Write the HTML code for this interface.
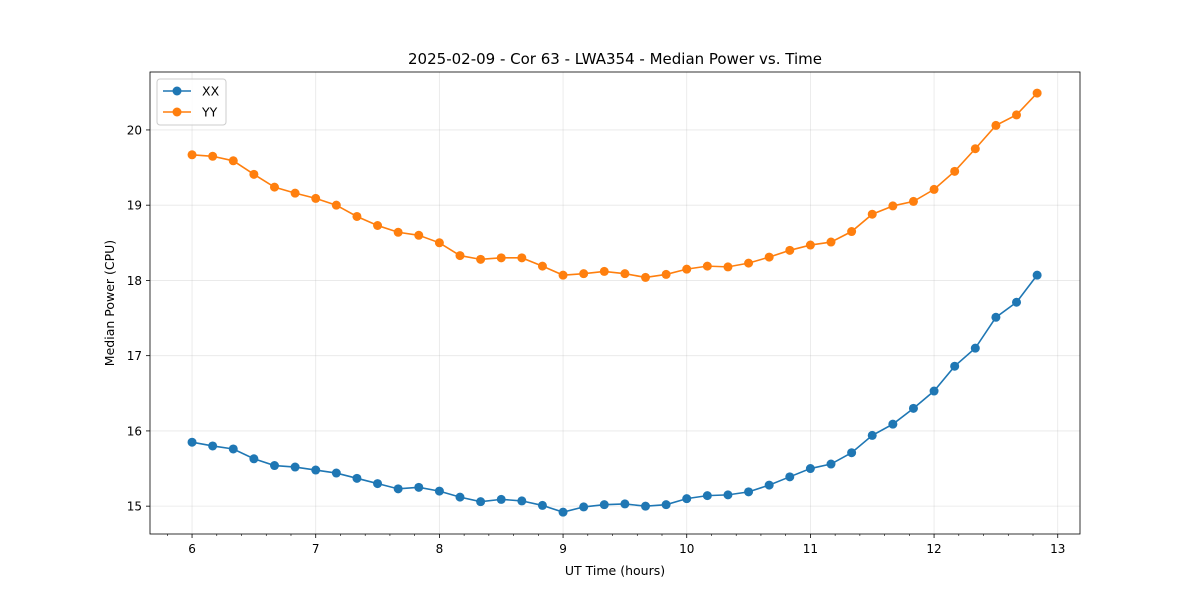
<!DOCTYPE html>
<html><head><meta charset="utf-8"><style>
body{margin:0;background:#fff;font-family:"Liberation Sans","DejaVu Sans",sans-serif;}
svg text{font-family:"DejaVu Sans","Liberation Sans",sans-serif;}
</style></head><body>
<svg id="chart" width="1200" height="600" xmlns="http://www.w3.org/2000/svg"></svg>
<script>
const xx = [15.85,15.80,15.76,15.63,15.54,15.52,15.48,15.44,15.37,15.30,15.23,15.25,15.20,15.12,15.06,15.09,15.07,15.01,14.92,14.99,15.02,15.03,15.00,15.02,15.10,15.14,15.15,15.19,15.28,15.39,15.50,15.56,15.71,15.94,16.09,16.30,16.53,16.86,17.10,17.51,17.71,18.07];
const yy = [19.67,19.65,19.59,19.41,19.24,19.16,19.09,19.00,18.85,18.73,18.64,18.60,18.50,18.33,18.28,18.30,18.30,18.19,18.07,18.09,18.12,18.09,18.04,18.08,18.15,18.19,18.18,18.23,18.31,18.40,18.47,18.51,18.65,18.88,18.99,19.05,19.21,19.45,19.75,20.06,20.20,20.49];
const times = xx.map((_, i) => 6 + i / 6);
const xTicks = [6,7,8,9,10,11,12,13];
const yTicks = [15,16,17,18,19,20];

const L=150,R=1080,T=72,B=534;
const X0=5.66,X1=13.18,Y0=14.63,Y1=20.77;
const sx=v=>L+(v-X0)/(X1-X0)*(R-L);
const sy=v=>B-(v-Y0)/(Y1-Y0)*(B-T);
const svg=document.getElementById('chart');
const NS='http://www.w3.org/2000/svg';
function mk(tag,attrs,parent){const e=document.createElementNS(NS,tag);for(const k in attrs)e.setAttribute(k,attrs[k]);(parent||svg).appendChild(e);return e;}

xTicks.forEach(t=>{
  const g=mk('line',{x1:sx(t),x2:sx(t),y1:T,y2:B,stroke:'#b0b0b0','stroke-opacity':0.3,'stroke-width':0.8});
  
  
});
yTicks.forEach(t=>{
  const g=mk('line',{x1:L,x2:R,y1:sy(t),y2:sy(t),stroke:'#b0b0b0','stroke-opacity':0.3,'stroke-width':0.8});
  
  
});
for(let v=5.8;v<13.15;v+=0.2){
  if(Math.abs(v-Math.round(v))<0.01)continue;
  const m=mk('line',{x1:sx(v),x2:sx(v),y1:B,y2:B+2,stroke:'#000','stroke-width':0.6});
  
  
}
xTicks.forEach(t=>{
  const tk=mk('line',{x1:sx(t),x2:sx(t),y1:B,y2:B+4,stroke:'#000','stroke-width':0.8});
  
  
  const tx=mk('text',{x:sx(t),y:B+19,'font-size':12,'text-anchor':'middle'});
  tx.textContent=t;
  
  
});
yTicks.forEach(t=>{
  const tk=mk('line',{x1:L-4,x2:L,y1:sy(t),y2:sy(t),stroke:'#000','stroke-width':0.8});
  
  
  const tx=mk('text',{x:L-8,y:sy(t)+4.5,'font-size':12,'text-anchor':'end'});
  tx.textContent=t;
  
  
});
function series(data,color,name){
  const pts=data.map((v,i)=>sx(times[i])+','+sy(v)).join(' ');
  const pl=mk('polyline',{points:pts,fill:'none',stroke:color,'stroke-width':1.6});
  
  
  data.forEach((v,i)=>{
    const c=mk('circle',{cx:sx(times[i]),cy:sy(v),r:4.5,fill:color});
    
    
  });
}
series(xx,'#1f77b4','xx');
series(yy,'#ff7f0e','yy');
const fr=mk('rect',{x:L,y:T,width:R-L,height:B-T,fill:'none',stroke:'#000','stroke-width':0.8});


const ti=mk('text',{x:(L+R)/2,y:64,'font-size':15,'text-anchor':'middle'});
ti.textContent='2025-02-09 - Cor 63 - LWA354 - Median Power vs. Time';


const xl=mk('text',{x:(L+R)/2,y:575,'font-size':12.5,'text-anchor':'middle'});
xl.textContent='UT Time (hours)';


const yl=mk('text',{x:0,y:0,'font-size':12.5,'text-anchor':'middle',transform:`translate(114,${(T+B)/2}) rotate(-90)`});
yl.textContent='Median Power (CPU)';


const lg=mk('g',{});


mk('rect',{x:157,y:79,width:69,height:46,rx:3,fill:'#fff','fill-opacity':0.8,stroke:'#ccc'},lg);
[['XX','#1f77b4',91],['YY','#ff7f0e',112]].forEach(([n,c,y])=>{
  const e=mk('g',{},lg);
  
  
  mk('line',{x1:163,x2:191,y1:y,y2:y,stroke:c,'stroke-width':1.6},e);
  mk('circle',{cx:177,cy:y,r:4.5,fill:c},e);
  const t=mk('text',{x:202,y:y+4.5,'font-size':12.5},e);
  t.textContent=n;
});
</script>
</body></html>
